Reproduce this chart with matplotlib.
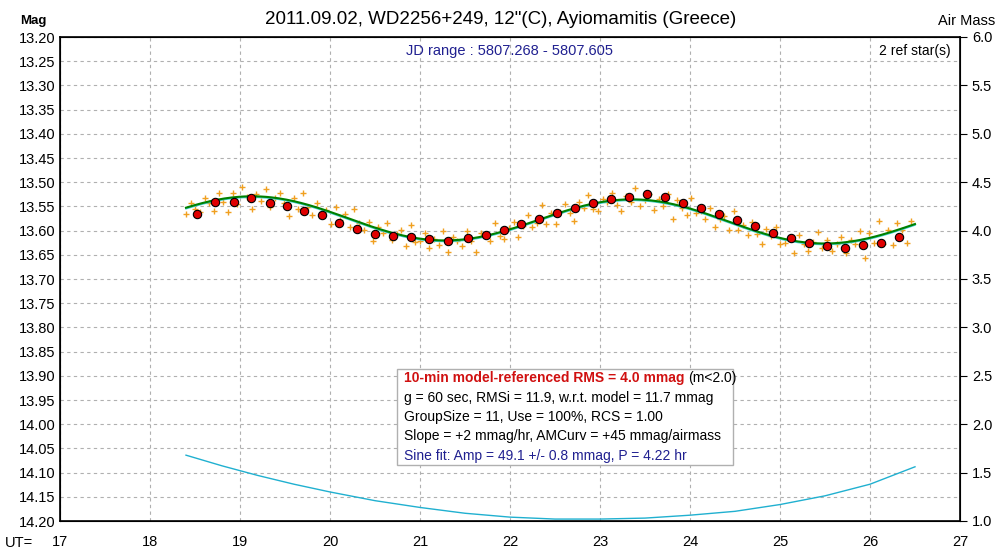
import numpy as np
import matplotlib.pyplot as plt

plt.rcParams['font.family'] = ['Liberation Sans', 'DejaVu Sans']

# 10-min group means (UT hours, mag)
grp_t = [18.52, 18.72, 18.93, 19.12, 19.33, 19.52, 19.71, 19.91, 20.10, 20.30,
         20.50, 20.70, 20.90, 21.10, 21.31, 21.53, 21.73, 21.93, 22.12, 22.32,
         22.52, 22.72, 22.92, 23.12, 23.32, 23.52, 23.72, 23.92, 24.12, 24.32,
         24.52, 24.72, 24.92, 25.12, 25.32, 25.52, 25.72, 25.92, 26.12, 26.32]
grp_m = [13.565, 13.541, 13.540, 13.533, 13.543, 13.550, 13.560, 13.568, 13.584, 13.596,
         13.606, 13.611, 13.614, 13.618, 13.622, 13.615, 13.609, 13.598, 13.586, 13.576,
         13.563, 13.553, 13.543, 13.534, 13.530, 13.524, 13.531, 13.543, 13.554, 13.565,
         13.578, 13.590, 13.604, 13.616, 13.626, 13.631, 13.635, 13.630, 13.625, 13.614]

# individual points: times and residuals from model (mmag)
pt_t = np.arange(18.40, 26.50, 0.052)
pt_res = [12, -6, 8, 18, -10, 4, 22, -14, 6, 30, -8, 14, -20, 2, 26, -4, 10, -16, 20, 0,
          -12, 8, 32, -6, 14, -22, 4, 18, -10, 6, -2, 24, -14, 10, -6, 16, -24, 2, 12, -8,
          28, -4, 6, -18, 14, 0, -10, 20, -26, 8, 4, -12, 18, -2, 10, -20, 24, -6, 2, 14,
          -16, 6, 30, -8, -2, 12, -22, 8, 16, -4, -12, 22, 2, -18, 10, 6, -28, 14, -6, 20,
          0, -14, 8, 26, -10, 4, -20, 12, 18, -6, 2, -16, 10, 24, -8, 6, -24, 14, 0, -12,
          20, -4, 8, -18, 30, -10, 4, 16, -22, 6, -2, 12, -14, 22, 2, -8, 18, -26, 10, -4,
          14, -16, 6, 24, -10, 0, -20, 12, 8, -6, 26, -14, 4, 18, -2, -24, 10, -8, 16, 2,
          -12, 22, -4, 6, -18, 40, -10, 12, -30, 20, -6, 28, -14, 4, 34, -8]

# fitted model parameters
amp = 0.044
period = 4.22
t_peak = 19.15
mag0 = 13.578
slope = 0.0015

# air mass along the night
am_t = [18.4, 18.8, 19.2, 19.6, 20.0, 20.5, 21.0, 21.5, 22.0, 22.5, 23.0, 23.5,
        24.0, 24.5, 25.0, 25.5, 26.0, 26.5]
am_v = [1.68, 1.57, 1.47, 1.38, 1.30, 1.21, 1.14, 1.08, 1.04, 1.02, 1.02, 1.03,
        1.06, 1.10, 1.17, 1.26, 1.38, 1.56]


def model(t):
    t = np.asarray(t)
    return mag0 - amp * np.cos(2 * np.pi * (t - t_peak) / period) + slope * (t - 22.4)


fig = plt.figure(figsize=(10.02, 5.59), dpi=100)
ax = fig.add_axes([60 / 1002, 38 / 559, 900 / 1002, 484 / 559])

n = min(len(pt_t), len(pt_res))
pt_m = model(pt_t[:n]) + np.array(pt_res[:n]) / 1000.0
ax.plot(pt_t[:n], pt_m, '+', color='#f0a020', ms=5, mew=1, zorder=2)

tt = np.linspace(18.4, 26.5, 400)
ax.plot(tt, model(tt) + 0.002, color='#40d0d0', lw=1.2, zorder=3)
ax.plot(tt, model(tt), color='#008000', lw=1.5, zorder=4)
ax.plot(grp_t, grp_m, 'o', color='#e00000', mec='black', mew=0.8, ms=6, zorder=5)

ax.set_xlim(17, 27)
ax.set_ylim(14.20, 13.20)
ax.set_xticks(range(17, 28))
ax.set_yticks(np.arange(13.20, 14.201, 0.05))
ax.set_yticklabels([f'{v:.2f}' for v in np.arange(13.20, 14.201, 0.05)])
ax.grid(True, ls=(0, (3, 3)), color='#b0b0b0', lw=0.8)
ax.tick_params(axis='y', length=0, labelsize=10.5)
ax.tick_params(axis='x', length=0, labelsize=10.5, pad=10)
fig.text(0.005, 16 / 559, 'UT=', ha='left', va='center', fontsize=10.5)
for s in ax.spines.values():
    s.set_linewidth(1.2)

ax2 = ax.twinx()
ax2.set_ylim(1.0, 6.0)
ax2.set_yticks(np.arange(1.0, 6.01, 0.5))
ax2.set_yticklabels([f'{v:.1f}' for v in np.arange(1.0, 6.01, 0.5)])
ax2.tick_params(axis='y', length=5, direction='out', labelsize=10.5)
ax2.plot(am_t, am_v, color='#20b0d0', lw=1)

fig.text(0.5, 0.965, '2011.09.02, WD2256+249, 12"(C), Ayiomamitis (Greece)',
         ha='center', va='center', fontsize=13.5)
fig.text(0.033, 0.962, 'Mag', ha='center', va='center', fontsize=9.5, fontweight='bold')
fig.text(0.965, 0.962, 'Air Mass', ha='center', va='center', fontsize=10.5)
ax.text(0.5, 0.985, 'JD range : 5807.268 - 5807.605', transform=ax.transAxes,
        ha='center', va='top', color='#202090', fontsize=10.5)
ax.text(0.99, 0.985, '2 ref star(s)', transform=ax.transAxes,
        ha='right', va='top', fontsize=10)

# info box
box = plt.Rectangle((0.374, 0.116), 0.374, 0.198, transform=ax.transAxes,
                    facecolor='white', edgecolor='#b0b0b0', lw=1, zorder=6)
ax.add_patch(box)
x0 = 0.382
lines = [
    ('g = 60 sec, RMSi = 11.9, w.r.t. model = 11.7 mmag', 'black'),
    ('GroupSize = 11, Use = 100%, RCS = 1.00', 'black'),
    ('Slope = +2 mmag/hr, AMCurv = +45 mmag/airmass', 'black'),
    ('Sine fit: Amp = 49.1 +/- 0.8 mmag, P = 4.22 hr', '#202090'),
]
t1 = ax.text(x0, 0.295, '10-min model-referenced RMS = 4.0 mmag', transform=ax.transAxes,
             color='#d01010', fontweight='bold', fontsize=10, va='center', zorder=7)
fig.canvas.draw()
bb = t1.get_window_extent().transformed(ax.transAxes.inverted())
ax.text(bb.x1 + 0.004, 0.295, '(m<2.0)', transform=ax.transAxes, fontsize=10,
        va='center', zorder=7)
for i, (s, c) in enumerate(lines):
    ax.text(x0, 0.295 - 0.04 * (i + 1), s, transform=ax.transAxes, color=c,
            fontsize=10, va='center', zorder=7)

fig.savefig('out.png', dpi=100)
